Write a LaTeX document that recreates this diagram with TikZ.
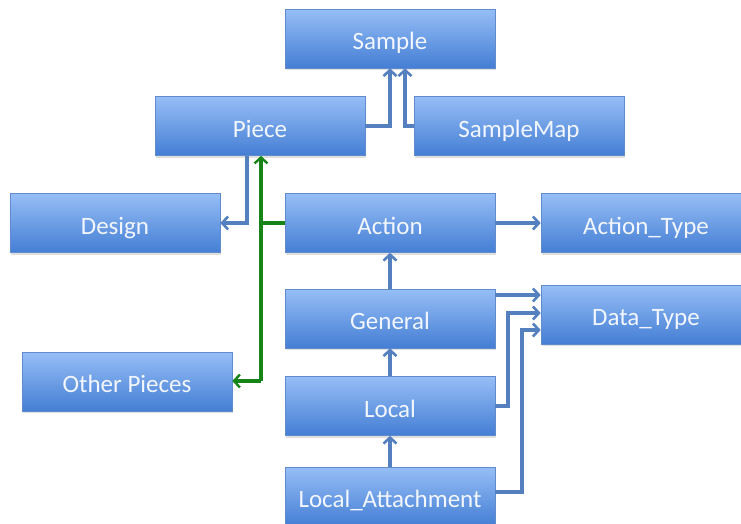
\documentclass[tikz,border=0pt]{standalone}
\usepackage{fontspec}
\setmainfont{Carlito}
\usetikzlibrary{arrows.meta,shadows}

\definecolor{boxtop}{RGB}{150,190,246}
\definecolor{boxbot}{RGB}{68,126,212}
\definecolor{boxedge}{RGB}{96,140,206}
\definecolor{linkblue}{RGB}{84,128,192}
\definecolor{linkgreen}{RGB}{22,132,22}
\definecolor{boxtext}{RGB}{242,246,255}

\tikzset{
  classbox/.style={rectangle, draw=boxedge, line width=0.6pt,
    top color=boxtop, bottom color=boxbot,
    minimum width=210pt, minimum height=59pt, inner sep=0pt,
    text height=22pt, text depth=0pt,
    text=boxtext, font=\fontsize{25}{28}\selectfont,
    drop shadow={opacity=0.25, shadow xshift=1pt, shadow yshift=-2pt}},
  tip/.style={-{Straight Barb[length=6pt,width=13pt,line width=2.6pt]}},
  link/.style={draw=linkblue, line width=3.6pt, tip},
  glink/.style={draw=linkgreen, line width=3.2pt},
  gtip/.style={-{Straight Barb[length=6pt,width=13pt,line width=2.4pt]}},
}

\begin{document}
\begin{tikzpicture}[x=1pt,y=-1pt]
\useasboundingbox (0,0) rectangle (741,523);
\clip (0,0) rectangle (741,523);

% boxes
\node[classbox] (sample)    at (390,38.5)  {Sample};
\node[classbox] (piece)     at (260,126)   {Piece};
\node[classbox] (samplemap) at (519,126)   {SampleMap};
\node[classbox] (design)    at (115,223)   {Design};
\node[classbox] (action)    at (390,223)   {Action};
\node[classbox] (actiontype) at (646,223)  {Action\_Type};
\node[classbox] (datatype)  at (646,314.5) {Data\_Type};
\node[classbox] (general)   at (390,318.5) {General};
\node[classbox] (other)     at (127,381.5) {Other Pieces};
\node[classbox] (local)     at (390,406)   {Local};
\node[classbox] (attach)    at (390,496.5) {Local\_Attachment};

% junction points
\coordinate (pj)  at (390,126);
\coordinate (smj) at (405,126);
\coordinate (dj)  at (247,223);
\coordinate (gx)  at (261,223);
\coordinate (gb)  at (261,381);
\coordinate (lj)  at (508,406);
\coordinate (aj)  at (522,492);

% blue connectors
\draw[link] (piece.east |- pj) -- (pj) -- (pj |- sample.south);
\draw[link] (samplemap.west |- smj) -- (smj) -- (smj |- sample.south);
\draw[link] (dj |- piece.south) -- (dj) -- (design.east |- dj);
\draw[link] (action.east) -- (actiontype.west);
\draw[link] (general.north) -- (action.south);
\draw[link] (local.north) -- (general.south);
\draw[link] (attach.north) -- (local.south);
\draw[link] (general.east |- 0,295) -- (datatype.west |- 0,295);
\draw[link] (local.east |- lj) -- (lj) -- (508,313) -- (datatype.west |- 0,313);
\draw[link] (attach.east |- aj) -- (aj) -- (522,330) -- (datatype.west |- 0,330);

% green connectors
\draw[glink, gtip] (gb) -- (gx |- piece.south);
\draw[glink, gtip] (gb) -- (other.east |- gb);
\draw[glink] (action.west) -- (gx);
\end{tikzpicture}
\end{document}
